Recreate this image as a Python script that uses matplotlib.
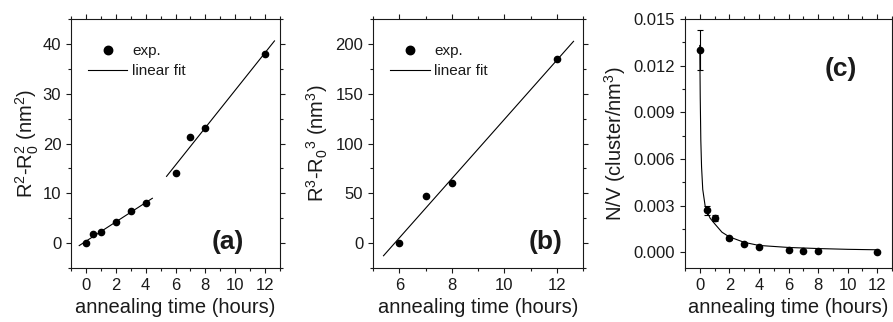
import numpy as np
import matplotlib
matplotlib.use("Agg")
import matplotlib.pyplot as plt
from matplotlib.ticker import MultipleLocator

plt.rcParams['font.family'] = ['Liberation Sans', 'DejaVu Sans']
plt.rcParams['mathtext.default'] = 'regular'

# panel (a): R^2 - R0^2 vs annealing time
t_a = [0, 0.5, 1, 2, 3, 4, 6, 7, 8, 12]
r2_a = [0.0, 1.8, 2.2, 4.2, 6.5, 8.0, 14.1, 21.3, 23.2, 38.0]
fit_a1_x = [-0.45, 4.45]
fit_a1_y = [-0.5, 9.0]
fit_a2_x = [5.4, 12.63]
fit_a2_y = [13.4, 40.6]

# panel (b): R^3 - R0^3 vs annealing time
t_b = [6, 7, 8, 12]
r3_b = [0.0, 47.0, 60.0, 185.0]
fit_b_x = [5.4, 12.64]
fit_b_y = [-12.7, 202.6]

# panel (c): number density
t_c = [0, 0.5, 1, 2, 3, 4, 6, 7, 8, 12]
nv_c = [0.0130, 0.0027, 0.0022, 0.00092, 0.00057, 0.00037, 0.00014, 0.00010, 0.00010, 0.00005]
nv_err = [0.0013, 0.0003, 0.0002, 0.0001, 0.00005, 0.00005, 0.00003, 0.00003, 0.00003, 0.00003]
curve_t = [0, 0.03, 0.07, 0.12, 0.2, 0.36, 0.5, 0.7, 1.0, 1.5, 2, 3, 4, 6, 8, 10, 12]
curve_nv = [0.0133, 0.0100, 0.0072, 0.0055, 0.00405, 0.0030, 0.0026, 0.0022, 0.00185,
            0.0013, 0.0010, 0.00065, 0.00045, 0.00032, 0.00025, 0.0002, 0.00017]

txt = '#1a1a1a'
W, H = 893, 322


def make_axes(fig, left, right, top=19, bottom=268):
    return fig.add_axes([left / W, (H - bottom) / H, (right - left) / W, (bottom - top) / H])


def style(ax):
    for s in ax.spines.values():
        s.set_linewidth(0.8)
        s.set_color(txt)
    ax.tick_params(which='both', direction='out', top=True, right=True,
                   labeltop=False, labelright=False, colors=txt, labelsize=12, width=0.8)
    ax.tick_params(which='major', length=3.5)
    ax.tick_params(which='minor', length=2)
    ax.set_xlabel('annealing time (hours)', fontsize=14.5, color=txt, labelpad=4)


def add_legend(ax):
    ax.legend(loc='upper left', bbox_to_anchor=(0.08, 0.90), frameon=False, fontsize=11,
              handlelength=2.6, handletextpad=0.3, borderpad=0, borderaxespad=0,
              labelspacing=0.4, markerscale=1.35, labelcolor=txt)


fig = plt.figure(figsize=(W / 100, H / 100), dpi=100)

# (a)
ax = make_axes(fig, 71, 280)
ax.plot(t_a, r2_a, 'o', color='black', ms=4.5, label='exp.')
ax.plot(fit_a1_x, fit_a1_y, '-', color='black', lw=0.8, label='linear fit')
ax.plot(fit_a2_x, fit_a2_y, '-', color='black', lw=0.8)
ax.set_xlim(-1, 13)
ax.set_ylim(-5, 45)
ax.xaxis.set_major_locator(MultipleLocator(2))
ax.xaxis.set_minor_locator(MultipleLocator(1))
ax.yaxis.set_major_locator(MultipleLocator(10))
ax.yaxis.set_minor_locator(MultipleLocator(5))
style(ax)
ax.set_ylabel(r'R$^2$-R$_0^2$ (nm$^2$)', fontsize=14.5, color=txt, labelpad=1.5)
add_legend(ax)
ax.text(0.75, 0.106, '(a)', transform=ax.transAxes, fontsize=19, fontweight='bold',
        ha='center', va='center', color=txt)

# (b)
ax = make_axes(fig, 373, 583)
ax.plot(t_b, r3_b, 'o', color='black', ms=4.5, label='exp.')
ax.plot(fit_b_x, fit_b_y, '-', color='black', lw=0.8, label='linear fit')
ax.set_xlim(5, 13)
ax.set_ylim(-25, 225)
ax.xaxis.set_major_locator(MultipleLocator(2))
ax.xaxis.set_minor_locator(MultipleLocator(1))
ax.yaxis.set_major_locator(MultipleLocator(50))
ax.yaxis.set_minor_locator(MultipleLocator(25))
style(ax)
ax.set_ylabel(r'R$^3$-R$_0$$^3$ (nm$^3$)', fontsize=14.5, color=txt)
add_legend(ax)
ax.text(0.82, 0.106, '(b)', transform=ax.transAxes, fontsize=19, fontweight='bold',
        ha='center', va='center', color=txt)

# (c)
ax = make_axes(fig, 685, 892)
ax.plot(curve_t, curve_nv, '-', color='black', lw=0.8)
ax.errorbar(t_c, nv_c, yerr=nv_err, fmt='o', color='black', ms=4.5,
            elinewidth=0.8, capsize=2.5, capthick=0.8)
ax.set_xlim(-1, 13)
ax.set_ylim(-0.001, 0.015)
ax.xaxis.set_major_locator(MultipleLocator(2))
ax.xaxis.set_minor_locator(MultipleLocator(1))
ax.yaxis.set_major_locator(MultipleLocator(0.003))
ax.yaxis.set_minor_locator(MultipleLocator(0.0015))
ax.yaxis.set_major_formatter(plt.FormatStrFormatter('%.3f'))
style(ax)
ax.set_ylabel(r'N/V (cluster/nm$^3$)', fontsize=14.5, color=txt)
ax.text(0.754, 0.80, '(c)', transform=ax.transAxes, fontsize=19, fontweight='bold',
        ha='center', va='center', color=txt)

fig.savefig('out.png', dpi=100)
